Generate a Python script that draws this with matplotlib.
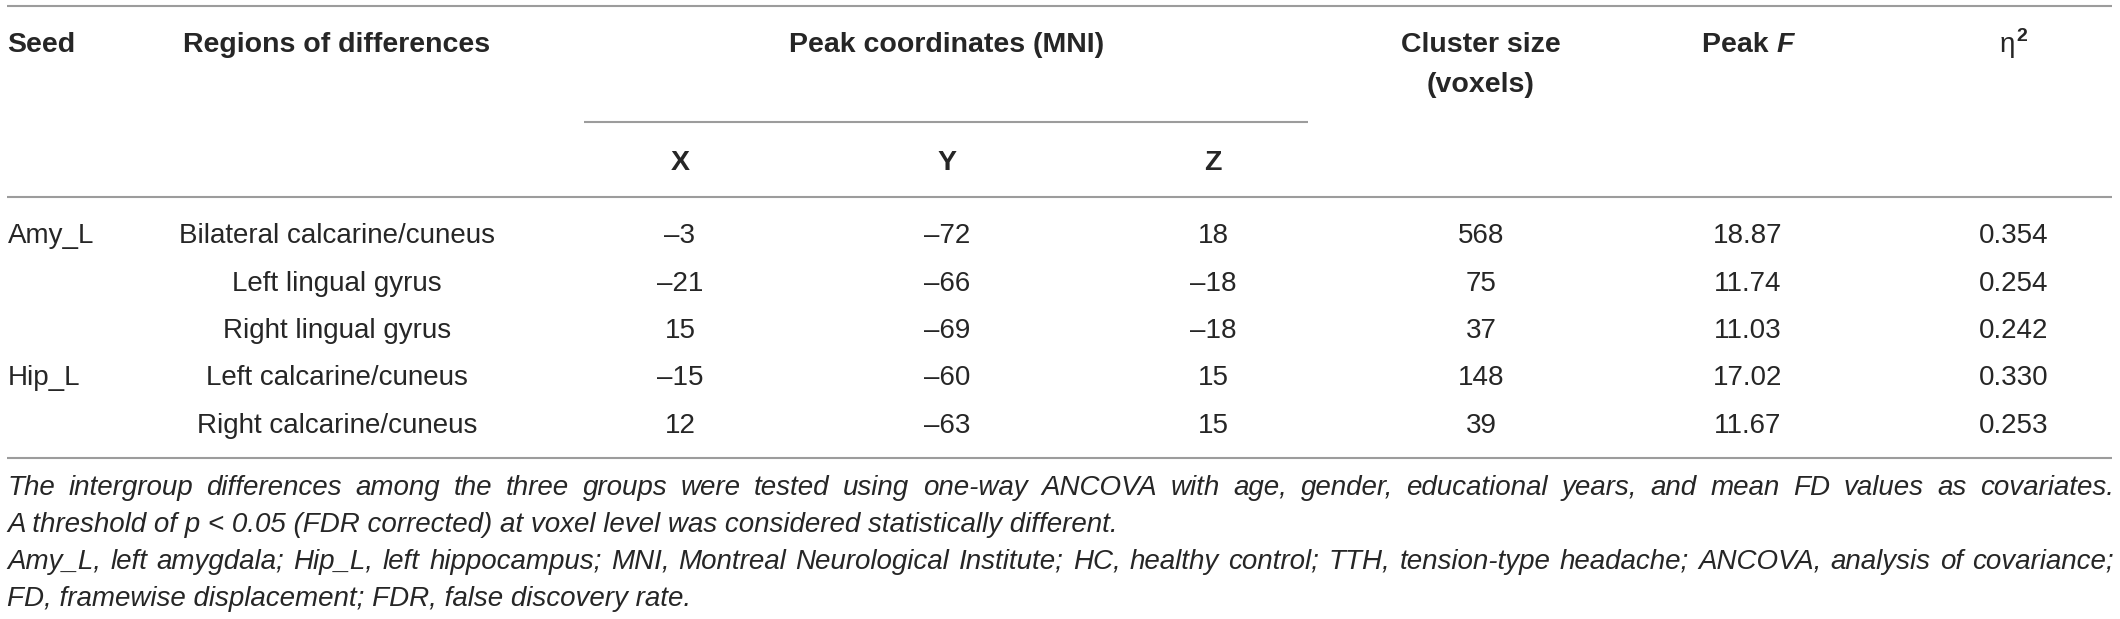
import matplotlib
matplotlib.use("Agg")
import matplotlib.pyplot as plt

plt.rcParams['font.family'] = ['Liberation Sans', 'DejaVu Sans']

# Table data
seeds = ["Amy_L", "", "", "Hip_L", ""]
regions = ["Bilateral calcarine/cuneus", "Left lingual gyrus", "Right lingual gyrus",
           "Left calcarine/cuneus", "Right calcarine/cuneus"]
peak_x = [-3, -21, 15, -15, 12]
peak_y = [-72, -66, -69, -60, -63]
peak_z = [18, -18, -18, 15, 15]
cluster = [568, 75, 37, 148, 39]
peak_f = [18.87, 11.74, 11.03, 17.02, 11.67]
eta2 = [0.354, 0.254, 0.242, 0.330, 0.253]

notes = [
    "The intergroup differences among the three groups were tested using one-way ANCOVA with age, gender, educational years, and mean FD values as covariates.",
    "A threshold of p < 0.05 (FDR corrected) at voxel level was considered statistically different.",
    "Amy_L, left amygdala; Hip_L, left hippocampus; MNI, Montreal Neurological Institute; HC, healthy control; TTH, tension-type headache; ANCOVA, analysis of covariance;",
    "FD, framewise displacement; FDR, false discovery rate.",
]
justify = [True, False, True, False]

W, H = 2120, 619
fig = plt.figure(figsize=(W / 100, H / 100), dpi=100)
ax = fig.add_axes([0, 0, 1, 1])
ax.set_xlim(0, W)
ax.set_ylim(H, 0)
ax.axis('off')

txt = '#262626'
rule = '#9c9c9c'
fs = 20
fsb = 20.5

def num(v):
    s = str(v)
    return s.replace('-', '\u2013')

# column centres (px)
col_seed = 7
col_reg = 337
col_x, col_y, col_z = 680, 947, 1213
col_cl, col_f, col_eta = 1481, 1748, 2014

# rules
ax.hlines([6, 197, 458], 7, 2112, color=rule, lw=1.5)
ax.hlines(122, 584, 1308, color=rule, lw=1.5)

# header
hb = 52
ax.text(col_seed, hb, "Seed", fontsize=fsb, fontweight='bold', color=txt, va='baseline', ha='left')
ax.text(col_reg, hb, "Regions of differences", fontsize=fsb, fontweight='bold', color=txt, va='baseline', ha='center')
ax.text(col_y, hb, "Peak coordinates (MNI)", fontsize=fsb, fontweight='bold', color=txt, va='baseline', ha='center')
ax.text(col_cl, hb, "Cluster size", fontsize=fsb, fontweight='bold', color=txt, va='baseline', ha='center')
ax.text(col_cl, 92, "(voxels)", fontsize=fsb, fontweight='bold', color=txt, va='baseline', ha='center')
for c, lab in zip([col_x, col_y, col_z], ["X", "Y", "Z"]):
    ax.text(c, 170, lab, fontsize=fsb, fontweight='bold', color=txt, va='baseline', ha='center')

fig.canvas.draw()
r = fig.canvas.get_renderer()

# "Peak F" with italic F
t1 = ax.text(0, hb, "Peak ", fontsize=fsb, fontweight='bold', color=txt, va='baseline', ha='left')
t2 = ax.text(0, hb, "F", fontsize=fsb, fontweight='bold', style='italic', color=txt, va='baseline', ha='left')
w1 = t1.get_window_extent(r).width
w2 = t2.get_window_extent(r).width
x0 = col_f - (w1 + w2) / 2
t1.set_x(x0)
t2.set_x(x0 + w1)

# eta squared
ax.text(col_eta + 1, hb, "\u03b7", fontsize=fs, color=txt, va='baseline', ha='right')
ax.text(col_eta + 2, hb - 11, "2", fontsize=14, fontweight='bold', color=txt, va='baseline', ha='left')

# rows
baselines = [243, 291, 338, 385, 433]
for i, yb in enumerate(baselines):
    kw = dict(fontsize=fs, color=txt, va='baseline')
    ax.text(col_seed + 1, yb, seeds[i], ha='left', **kw)
    ax.text(col_reg, yb, regions[i], ha='center', **kw)
    ax.text(col_x, yb, num(peak_x[i]), ha='center', **kw)
    ax.text(col_y, yb, num(peak_y[i]), ha='center', **kw)
    ax.text(col_z, yb, num(peak_z[i]), ha='center', **kw)
    ax.text(col_cl, yb, str(cluster[i]), ha='center', **kw)
    ax.text(col_f, yb, f"{peak_f[i]:.2f}", ha='center', **kw)
    ax.text(col_eta, yb, f"{eta2[i]:.3f}", ha='center', **kw)

# footnotes
note_base = [495, 532, 569, 606]
left, right = 7, 2114
for line, jus, yb in zip(notes, justify, note_base):
    if not jus:
        ax.text(left, yb, line, fontsize=fs, style='italic', color=txt, va='baseline', ha='left')
        continue
    words = line.split(' ')
    size = fs
    while True:
        objs = [ax.text(0, yb, w, fontsize=size, style='italic', color=txt, va='baseline', ha='left')
                for w in words]
        widths = [o.get_window_extent(r).width for o in objs]
        gap = (right - left - sum(widths)) / (len(words) - 1)
        if gap >= 4 or size < 14:
            break
        for o in objs:
            o.remove()
        size -= 0.25
    x = left
    for o, w in zip(objs, widths):
        o.set_x(x)
        x += w + gap

fig.savefig("out.png", dpi=100, facecolor='white')
